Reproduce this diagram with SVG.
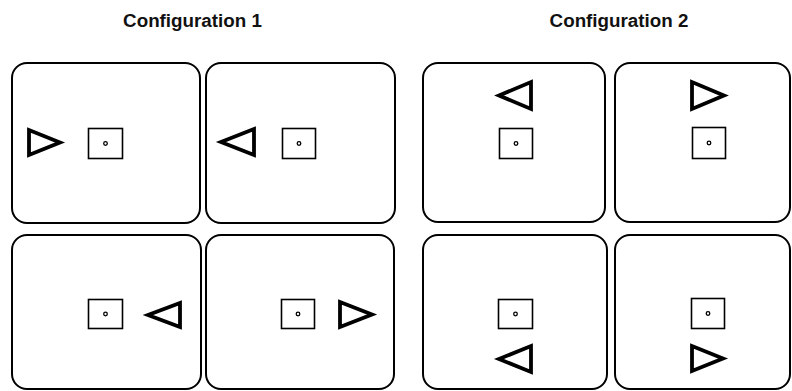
<svg xmlns="http://www.w3.org/2000/svg" width="792" height="391" viewBox="0 0 792 391">
<style>
.panel{fill:#fff;stroke:#000;stroke-width:2}
.tri{fill:#fff;stroke:#000;stroke-width:3.8;stroke-linejoin:miter}
.sq{fill:#fff;stroke:#000;stroke-width:1.6}
.dot{fill:#fff;stroke:#000;stroke-width:1.3}
.title{font-family:"Liberation Sans",Arial,sans-serif;font-size:18.8px;font-weight:bold;fill:#111}
</style>
<rect width="792" height="391" fill="#fff"/>
<text class="title" x="192.5" y="27" text-anchor="middle">Configuration 1</text>
<text class="title" x="619" y="27" text-anchor="middle">Configuration 2</text>
<g id="c1-top-left">
<rect class="panel" x="12" y="63" width="188" height="160" rx="15"/>
<polygon class="tri" points="29,130 29,155 60,142.5"/>
<rect class="sq" x="88.5" y="128.5" width="34" height="30"/>
<circle class="dot" cx="105.5" cy="143.5" r="1.8"/>
</g>
<g id="c1-top-right">
<rect class="panel" x="206" y="63" width="189" height="160" rx="15"/>
<polygon class="tri" points="254,129 254,155 221,142"/>
<rect class="sq" x="282.5" y="128.5" width="33" height="30"/>
<circle class="dot" cx="299" cy="143.5" r="1.8"/>
</g>
<g id="c1-bottom-left">
<rect class="panel" x="12" y="235" width="189" height="154" rx="15"/>
<polygon class="tri" points="180,303 180,327 148,315"/>
<rect class="sq" x="88.5" y="299.5" width="34" height="29"/>
<circle class="dot" cx="105.5" cy="314" r="1.8"/>
</g>
<g id="c1-bottom-right">
<rect class="panel" x="206" y="235" width="188" height="154" rx="15"/>
<polygon class="tri" points="340,302 340,327 372,314.5"/>
<rect class="sq" x="281.5" y="299.5" width="33" height="29"/>
<circle class="dot" cx="298" cy="314" r="1.8"/>
</g>
<g id="c2-top-left">
<rect class="panel" x="423" y="63" width="182" height="159" rx="15"/>
<polygon class="tri" points="531,82 531,109 499,95.5"/>
<rect class="sq" x="499.5" y="128.5" width="33" height="30"/>
<circle class="dot" cx="516" cy="143.5" r="1.8"/>
</g>
<g id="c2-top-right">
<rect class="panel" x="615" y="63" width="175" height="159" rx="15"/>
<polygon class="tri" points="692,82 692,109 724,95.5"/>
<rect class="sq" x="692.5" y="127.5" width="33" height="31"/>
<circle class="dot" cx="709" cy="143" r="1.8"/>
</g>
<g id="c2-bottom-left">
<rect class="panel" x="423" y="235" width="184" height="154" rx="15"/>
<polygon class="tri" points="531,346 531,372 499,359"/>
<rect class="sq" x="498.5" y="299.5" width="34" height="29"/>
<circle class="dot" cx="515.5" cy="314" r="1.8"/>
</g>
<g id="c2-bottom-right">
<rect class="panel" x="615" y="235" width="175" height="154" rx="15"/>
<polygon class="tri" points="692,346 692,371 723,358.5"/>
<rect class="sq" x="691.5" y="298.5" width="33" height="30"/>
<circle class="dot" cx="708" cy="313.5" r="1.8"/>
</g>
<g id="connectors"/>
</svg>
